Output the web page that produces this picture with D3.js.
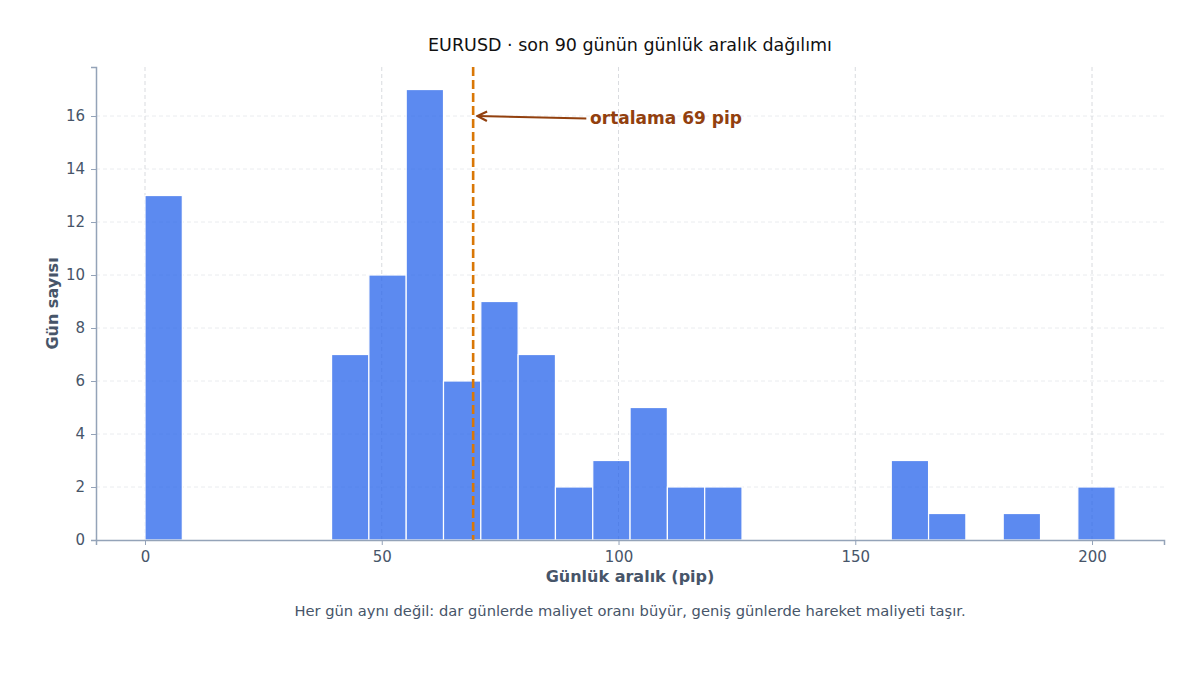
<!DOCTYPE html>
<html>
<head>
<meta charset="utf-8">
<script src="https://cdn.jsdelivr.net/npm/d3@7"></script>
<style>
  body { margin: 0; background: #fff; font-family: "DejaVu Sans", sans-serif; }
</style>
</head>
<body>
<div id="chart"></div>
<script>
// bin edges (pip) and number of days in each bin
const binEdges = [0, 7.88, 15.76, 23.64, 31.52, 39.4, 47.28, 55.16, 63.04, 70.92, 78.8, 86.68,
  94.56, 102.44, 110.32, 118.2, 126.08, 133.96, 141.84, 149.72, 157.6, 165.48, 173.36,
  181.24, 189.12, 197.0, 204.88];
const dayCounts = [13, 0, 0, 0, 0, 7, 10, 17, 6, 9, 7, 2, 3, 5, 2, 2, 0, 0, 0, 0, 3, 1, 0, 1, 0, 2];
const meanPip = 69.3;
const xTicks = [0, 50, 100, 150, 200];
const yTicks = [0, 2, 4, 6, 8, 10, 12, 14, 16];

const W = 1200, H = 675;
const margin = { top: 67, right: 36, bottom: 135, left: 96 };
const width = W - margin.left - margin.right;
const height = H - margin.top - margin.bottom;

const svg = d3.select("#chart")
    .append("svg")
    .attr("width", W)
    .attr("height", H);

const g = svg.append("g")
    .attr("transform", `translate(${margin.left},${margin.top})`);

const x = d3.scaleLinear().domain([-10.35, 215.2]).range([0, width]);
const y = d3.scaleLinear().domain([0, 17.85]).range([height, 0]);

// Grid
g.append("g").selectAll("line")
    .data(yTicks.slice(1))
    .enter().append("line")
    .attr("x1", 0).attr("x2", width)
    .attr("y1", d => y(d)).attr("y2", d => y(d))
    .attr("stroke", "#e5e7eb").attr("stroke-dasharray", "4,3").attr("stroke-width", 0.8);

g.append("g").selectAll("line")
    .data(xTicks)
    .enter().append("line")
    .attr("x1", d => x(d)).attr("x2", d => x(d))
    .attr("y1", 0).attr("y2", height)
    .attr("stroke", "#cfd2d7").attr("stroke-dasharray", "4,3").attr("stroke-width", 0.8);

// Bars
const bins = dayCounts.map((c, i) => ({ x0: binEdges[i], x1: binEdges[i + 1], count: c }))
    .filter(d => d.count > 0);

g.selectAll("rect.bar")
    .data(bins)
    .enter().append("rect")
    .attr("class", "bar")
    .attr("x", d => x(d.x0))
    .attr("width", d => x(d.x1) - x(d.x0))
    .attr("y", d => y(d.count))
    .attr("height", d => y(0) - y(d.count))
    .attr("fill", "#2563eb")
    .attr("fill-opacity", 0.75)
    .attr("stroke", "#ffffff")
    .attr("stroke-width", 1.2);

// Mean line
g.append("line")
    .attr("x1", x(meanPip)).attr("x2", x(meanPip))
    .attr("y1", 0).attr("y2", height)
    .attr("stroke", "#d97706")
    .attr("stroke-width", 2.6)
    .attr("stroke-dasharray", "9,4");

// Annotation arrow
svg.append("defs").append("marker")
    .attr("id", "arrow")
    .attr("viewBox", "0 0 10 10")
    .attr("refX", 9).attr("refY", 5)
    .attr("markerWidth", 6).attr("markerHeight", 6)
    .attr("orient", "auto")
    .append("path")
    .attr("d", "M1,1 L9,5 L1,9")
    .attr("fill", "none")
    .attr("stroke", "#92400e")
    .attr("stroke-width", 1.8);

g.append("line")
    .attr("x1", x(93.2)).attr("y1", y(15.91))
    .attr("x2", x(70.2)).attr("y2", y(16.0))
    .attr("stroke", "#92400e")
    .attr("stroke-width", 2)
    .attr("marker-end", "url(#arrow)");

g.append("text")
    .attr("x", x(94.0))
    .attr("y", y(15.92))
    .attr("dy", "0.35em")
    .attr("fill", "#92400e")
    .style("font-size", "17px")
    .style("font-weight", "bold")
    .text("ortalama 69 pip");

// Axes
const xAxis = g.append("g")
    .attr("transform", `translate(0,${height})`)
    .call(d3.axisBottom(x).tickValues(xTicks).tickSize(5).tickPadding(6));
const yAxis = g.append("g")
    .call(d3.axisLeft(y).tickValues(yTicks).tickSize(5).tickPadding(6));

[xAxis, yAxis].forEach(a => {
    a.attr("font-size", null).attr("font-family", null);
    a.select(".domain").attr("stroke", "#94a3b8").attr("stroke-width", 1.5);
    a.selectAll(".tick line").attr("stroke", "#94a3b8");
    a.selectAll(".tick text")
        .attr("fill", "#475569")
        .style("font-family", "DejaVu Sans")
        .style("font-size", "15px");
});

// Labels
svg.append("text")
    .attr("x", 630).attr("y", 51)
    .attr("text-anchor", "middle")
    .attr("fill", "#111111")
    .style("font-size", "17.5px")
    .text("EURUSD · son 90 günün günlük aralık dağılımı");

svg.append("text")
    .attr("x", 630).attr("y", 582)
    .attr("text-anchor", "middle")
    .attr("fill", "#475569")
    .style("font-size", "16px")
    .style("font-weight", "bold")
    .text("Günlük aralık (pip)");

svg.append("text")
    .attr("transform", "rotate(-90)")
    .attr("x", -(margin.top + height / 2))
    .attr("y", 58)
    .attr("text-anchor", "middle")
    .attr("fill", "#475569")
    .style("font-size", "16px")
    .style("font-weight", "bold")
    .text("Gün sayısı");

svg.append("text")
    .attr("x", 630).attr("y", 616)
    .attr("text-anchor", "middle")
    .attr("fill", "#475569")
    .style("font-size", "14.7px")
    .text("Her gün aynı değil: dar günlerde maliyet oranı büyür, geniş günlerde hareket maliyeti taşır.");
</script>
</body>
</html>
